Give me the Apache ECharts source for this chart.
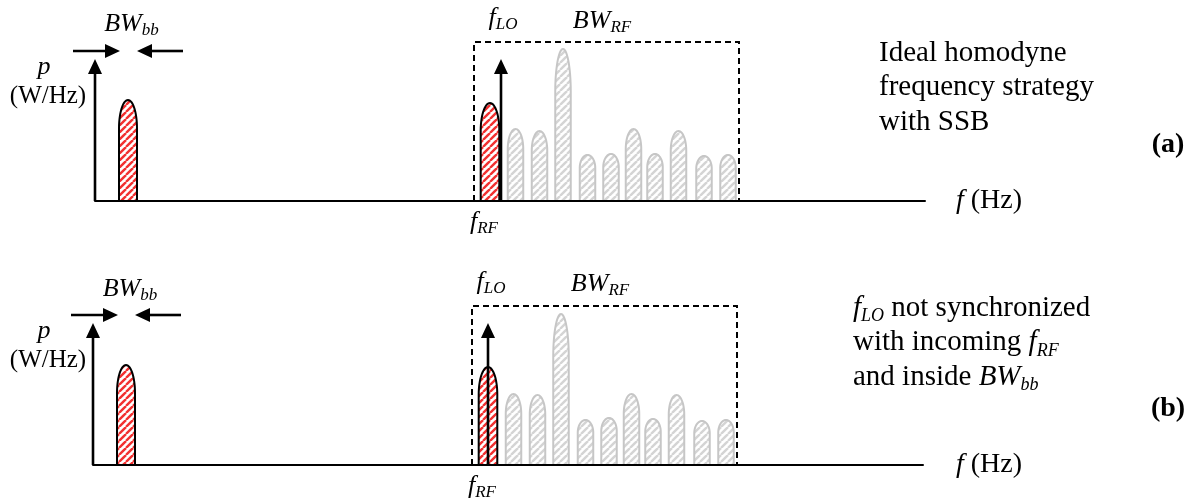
<!DOCTYPE html>
<html><head><meta charset="utf-8">
<script src="https://cdn.jsdelivr.net/npm/echarts@6/dist/echarts.min.js"></script>
<style>html,body{margin:0;padding:0;background:#fff}#c{width:1193px;height:498px}</style>
</head><body><div id="c"></div>
<script>
// ---------- data (frequency axis in arbitrary units, power in arbitrary units) ----------
const rfCenters   = [420.5, 444.5, 468, 492.5, 516, 538.5, 560, 583.5, 609, 633];
const rfHeightsA  = [72, 70, 152, 46, 47, 72, 47, 70, 45, 46];
const rfHeightsB  = [71, 70, 151, 45, 47, 71, 46, 70, 44, 45];
const rfLobeWidth = 15.5;
const wantedCenter = 395;
const wantedWidth  = 18.6;
const wantedHeight = [98, 98];
const bbCenter = 33;
const bbWidth  = 18;
const bbHeight = [101, 100];
const loFreq   = [406, 395];
const arrowHeight = 142;
const bwRFEdges = [379, 644];
const bwRFTop   = 159;
const bwBBArrows = [[-22, 25], [88, 42]];
const bwArrowLevel = 150;
const labelX = { bwbb: [36.5, 37], bwrf: [507, 507], flo: [408, 398], frf: [389, 389] };
const labelY = { bwbb: [176.5, 176], bwrf: [180, 181], flo: [183, 183], frf: [-21, -21] };
const descA = 'Ideal homodyne\nfrequency strategy\nwith SSB';
const descB = '{i|f}{s|LO}{n| not synchronized}\n{n|with incoming }{i|f}{s|RF}\n{n|and inside }{i|BW}{s|bb}';
const xMax = 830, yMax = 160;

const SERIF = '"Liberation Serif", "Times New Roman", serif';

function hatch(color) {
  const s = 7, cv = document.createElement('canvas');
  cv.width = s; cv.height = s;
  const g = cv.getContext('2d');
  g.fillStyle = '#fff'; g.fillRect(0, 0, s, s);
  g.strokeStyle = color; g.lineWidth = 2.4;
  for (const o of [-s, 0, s]) { g.beginPath(); g.moveTo(o, s); g.lineTo(o + s, 0); g.stroke(); }
  return cv;
}
const redFill  = { image: hatch('#f23030'), repeat: 'repeat' };
const grayFill = { image: hatch('#d4d4d4'), repeat: 'repeat' };

function lobeRender(params, api) {
  const cx = api.value(0), h = api.value(1), w = api.value(2), kind = api.value(3);
  const bl = api.coord([cx - w / 2, 0]), tr = api.coord([cx + w / 2, h]);
  const x0 = bl[0], x1 = tr[0], yb = bl[1], yt = tr[1];
  const H = yb - yt, W = x1 - x0, c = 0.28 * H, mx = (x0 + x1) / 2, yc = yt + c;
  const pts = [[x0, yb], [x0, yc]];
  for (let i = 1; i < 30; i++) {
    const t = Math.PI - Math.PI * i / 30;
    pts.push([mx + W / 2 * Math.cos(t), yc - c * Math.sin(t)]);
  }
  pts.push([x1, yc], [x1, yb]);
  return { type: 'polyline', shape: { points: pts.concat([[x0, yb]]) },
    style: { fill: kind ? redFill : grayFill, stroke: kind ? '#000' : '#c6c6c6', lineWidth: 2 } };
}

function arrowRender(params, api) {
  const a = api.coord([api.value(0), api.value(1)]), b = api.coord([api.value(2), api.value(3)]);
  const dx = b[0] - a[0], dy = b[1] - a[1], L = Math.hypot(dx, dy), ux = dx / L, uy = dy / L;
  const hl = 15, hw = 7;
  const base = [b[0] - ux * hl, b[1] - uy * hl];
  return { type: 'group', children: [
    { type: 'line', shape: { x1: a[0], y1: a[1], x2: base[0] + ux, y2: base[1] + uy }, style: { stroke: '#000', lineWidth: 2.6 } },
    { type: 'polygon', shape: { points: [b, [base[0] - uy * hw, base[1] + ux * hw], [base[0] + uy * hw, base[1] - ux * hw]] }, style: { fill: '#000' } }
  ]};
}

function boxRender(params, api) {
  const l = api.value(0), r = api.value(1), t = api.value(2);
  const p = [api.coord([l, 0]), api.coord([l, t]), api.coord([r, t]), api.coord([r, 0])];
  return { type: 'polyline', shape: { points: p }, style: { stroke: '#000', fill: 'none', lineWidth: 2, lineDash: [6, 4] } };
}

const labelRich = {
  i: { fontFamily: SERIF, fontStyle: 'italic', fontSize: 26, lineHeight: 30, fill: '#000' },
  s: { fontFamily: SERIF, fontStyle: 'italic', fontSize: 17, lineHeight: 20, verticalAlign: 'bottom', fill: '#000' }
};
const labelTexts = ['{i|BW}{s|bb}', '{i|BW}{s|RF}', '{i|f}{s|LO}', '{i|f}{s|RF}'];
function labelRender(params, api) {
  const p = api.coord([api.value(0), api.value(1)]);
  return { type: 'text', x: p[0], y: p[1],
    style: { text: labelTexts[api.value(2)], rich: labelRich, align: 'center', verticalAlign: 'middle' } };
}

function panelSeries(k) {
  const lobes = [[bbCenter, bbHeight[k], bbWidth, 1], [wantedCenter, wantedHeight[k], wantedWidth, 1]];
  const hs = k === 0 ? rfHeightsA : rfHeightsB;
  rfCenters.forEach((c, i) => lobes.push([c, hs[i], rfLobeWidth, 0]));
  const arrows = [[0, 0, 0, arrowHeight], [loFreq[k], 0, loFreq[k], arrowHeight],
    [bwBBArrows[0][0], bwArrowLevel, bwBBArrows[0][1], bwArrowLevel],
    [bwBBArrows[1][0], bwArrowLevel, bwBBArrows[1][1], bwArrowLevel]];
  const labels = [[labelX.bwbb[k], labelY.bwbb[k], 0], [labelX.bwrf[k], labelY.bwrf[k], 1],
    [labelX.flo[k], labelY.flo[k], 2], [labelX.frf[k], labelY.frf[k], 3]];
  const base = { type: 'custom', coordinateSystem: 'cartesian2d', xAxisIndex: k, yAxisIndex: k, clip: false, silent: true };
  return [
    Object.assign({}, base, { renderItem: boxRender, data: [[bwRFEdges[0], bwRFEdges[1], bwRFTop]], encode: { x: [0, 1], y: 2 }, z: 3 }),
    Object.assign({}, base, { renderItem: lobeRender, data: lobes, encode: { x: 0, y: 1 }, z: 2 }),
    Object.assign({}, base, { renderItem: arrowRender, data: arrows, encode: { x: [0, 2], y: [1, 3] }, z: 4 }),
    Object.assign({}, base, { renderItem: labelRender, data: labels, encode: { x: 0, y: 1 }, z: 5 })
  ];
}

const axisX = (i) => ({ type: 'value', gridIndex: i, min: 0, max: xMax, z: 10,
  axisLine: { show: true, lineStyle: { color: '#000', width: 2 } },
  axisTick: { show: false }, axisLabel: { show: false }, splitLine: { show: false } });
const axisY = (i) => ({ type: 'value', gridIndex: i, min: 0, max: yMax, show: false, splitLine: { show: false } });

const mainRich = {
  n: { fontFamily: SERIF, fontSize: 29, lineHeight: 34.5, fill: '#000' },
  i: { fontFamily: SERIF, fontSize: 29, fontStyle: 'italic', lineHeight: 34.5, fill: '#000' },
  s: { fontFamily: SERIF, fontSize: 18, fontStyle: 'italic', lineHeight: 24, verticalAlign: 'bottom', fill: '#000' }
};
const hzRich = {
  n: { fontFamily: SERIF, fontSize: 28, lineHeight: 34, fill: '#000' },
  i: { fontFamily: SERIF, fontSize: 28, fontStyle: 'italic', lineHeight: 34, fill: '#000' }
};
function sideTexts(dy, letter) {
  return [
    { type: 'text', x: 44, y: 67 + dy, style: { text: 'p', font: 'italic 26px ' + SERIF, fill: '#000', align: 'center', verticalAlign: 'middle' } },
    { type: 'text', x: 48, y: 96 + dy, style: { text: '(W/Hz)', font: '25px ' + SERIF, fill: '#000', align: 'center', verticalAlign: 'middle' } },
    { type: 'text', x: 956, y: 201 + dy, style: { text: '{i|f}{n| (Hz)}', rich: hzRich, align: 'left', verticalAlign: 'middle' } },
    { type: 'text', x: 1168, y: 145 + dy, style: { text: letter, font: 'bold 28px ' + SERIF, fill: '#000', align: 'center', verticalAlign: 'middle' } }
  ];
}

const chart = echarts.init(document.getElementById('c'), null, { renderer: 'canvas' });
chart.setOption({
  animation: false,
  backgroundColor: '#fff',
  grid: [{ left: 95, top: 41, width: 830, height: 160 }, { left: 93, top: 305, width: 830, height: 160 }],
  xAxis: [axisX(0), axisX(1)],
  yAxis: [axisY(0), axisY(1)],
  series: panelSeries(0).concat(panelSeries(1)),
  graphic: sideTexts(0, '(a)').concat(sideTexts(264, '(b)')).concat([
    { type: 'text', x: 879, y: 36, style: { text: descA, font: '29px ' + SERIF, lineHeight: 34.5, fill: '#000', align: 'left', verticalAlign: 'top' } },
    { type: 'text', x: 853, y: 291, style: { text: descB, rich: mainRich, align: 'left', verticalAlign: 'top' } }
  ])
});
</script></body></html>
